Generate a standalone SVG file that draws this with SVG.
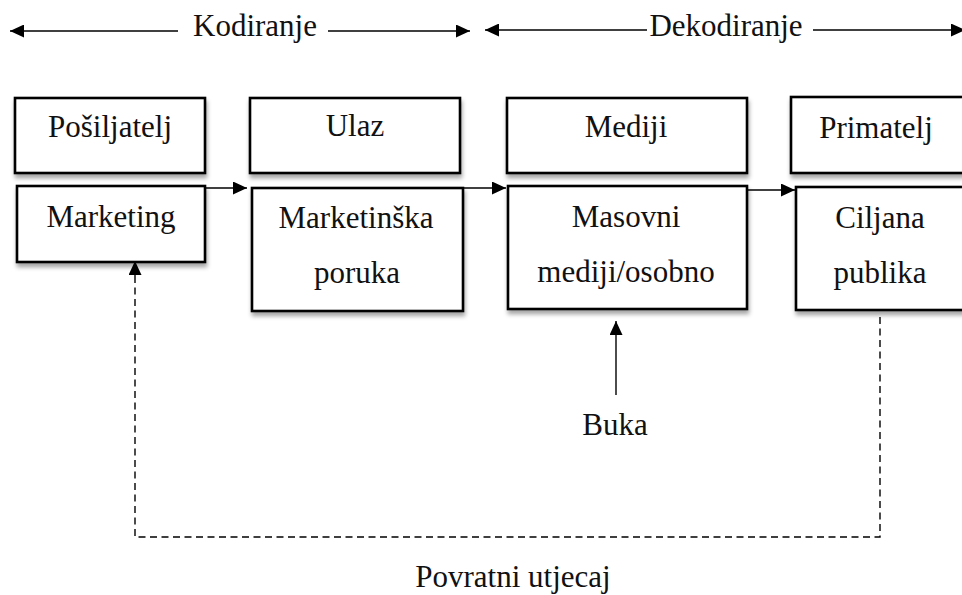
<svg xmlns="http://www.w3.org/2000/svg" width="962" height="595" viewBox="0 0 962 595">
<style>
text{font-family:'Liberation Serif','Times New Roman',Times,'DejaVu Serif',serif;font-size:31px;fill:#111;text-anchor:middle}
.box{fill:#fff;stroke:#000;stroke-width:2.6;filter:url(#sh)}
.ln{stroke:#000;stroke-width:1.4;fill:none}
.dash{stroke:#000;stroke-width:1.4;fill:none;stroke-dasharray:7 4.5}
</style>
<defs>
<filter id="sh" x="-10%" y="-10%" width="130%" height="140%">
<feDropShadow dx="1" dy="4" stdDeviation="2.2" flood-color="#000" flood-opacity="0.35"/>
</filter>
<marker id="ahb" viewBox="0 0 10 10" refX="10" refY="5" markerWidth="14" markerHeight="13" markerUnits="userSpaceOnUse" orient="auto-start-reverse" preserveAspectRatio="none">
<path d="M0,0 L10,5 L0,10 Z" fill="#000"/>
</marker>
</defs>
<rect width="962" height="595" fill="#fff"/>

<g id="header">
<text x="255" y="36">Kodiranje</text>
<text x="726" y="36">Dekodiranje</text>
</g>

<g id="n-posiljatelj"><rect class="box" x="15" y="98" width="190" height="75"/><text x="110" y="137">Pošiljatelj</text></g>
<g id="n-marketing"><rect class="box" x="17" y="186" width="188" height="76"/><text x="111" y="227">Marketing</text></g>
<g id="n-ulaz"><rect class="box" x="250" y="98" width="210" height="75"/><text x="355" y="136">Ulaz</text></g>
<g id="n-poruka"><rect class="box" x="252" y="188" width="211" height="123"/><text x="356" y="228">Marketinška</text><text x="357" y="283">poruka</text></g>
<g id="n-mediji"><rect class="box" x="507" y="98" width="240" height="75"/><text x="626" y="137">Mediji</text></g>
<g id="n-masovni"><rect class="box" x="508" y="186" width="239" height="123"/><text x="626" y="227">Masovni</text><text x="626" y="282">mediji/osobno</text></g>
<g id="n-primatelj"><rect class="box" x="791" y="97" width="185" height="76"/><text x="876" y="138">Primatelj</text></g>
<g id="n-ciljana"><rect class="box" x="796" y="187" width="180" height="123"/><text x="880" y="228">Ciljana</text><text x="880" y="283">publika</text></g>
<g id="n-buka"><text x="615" y="435">Buka</text></g>
<g id="n-povratni"><text x="513" y="587">Povratni utjecaj</text></g>

<g id="connectors">
<line class="ln" x1="178" y1="31" x2="10" y2="31" marker-end="url(#ahb)"/>
<line class="ln" x1="328" y1="31" x2="470" y2="31" marker-end="url(#ahb)"/>
<line class="ln" x1="647" y1="30" x2="485" y2="30" marker-end="url(#ahb)"/>
<line class="ln" x1="813" y1="30" x2="965" y2="30" marker-end="url(#ahb)"/>
<line class="ln" x1="205" y1="188" x2="247" y2="188" marker-end="url(#ahb)"/>
<line class="ln" x1="463" y1="188" x2="506" y2="188" marker-end="url(#ahb)"/>
<line class="ln" x1="747" y1="190" x2="795" y2="190" marker-end="url(#ahb)"/>
<line class="ln" x1="616" y1="395" x2="616" y2="321" marker-end="url(#ahb)"/>
<path class="dash" d="M880,317 V537 H135 V275"/>
<line class="ln" x1="135" y1="276" x2="135" y2="261" marker-end="url(#ahb)"/>
</g>
</svg>
